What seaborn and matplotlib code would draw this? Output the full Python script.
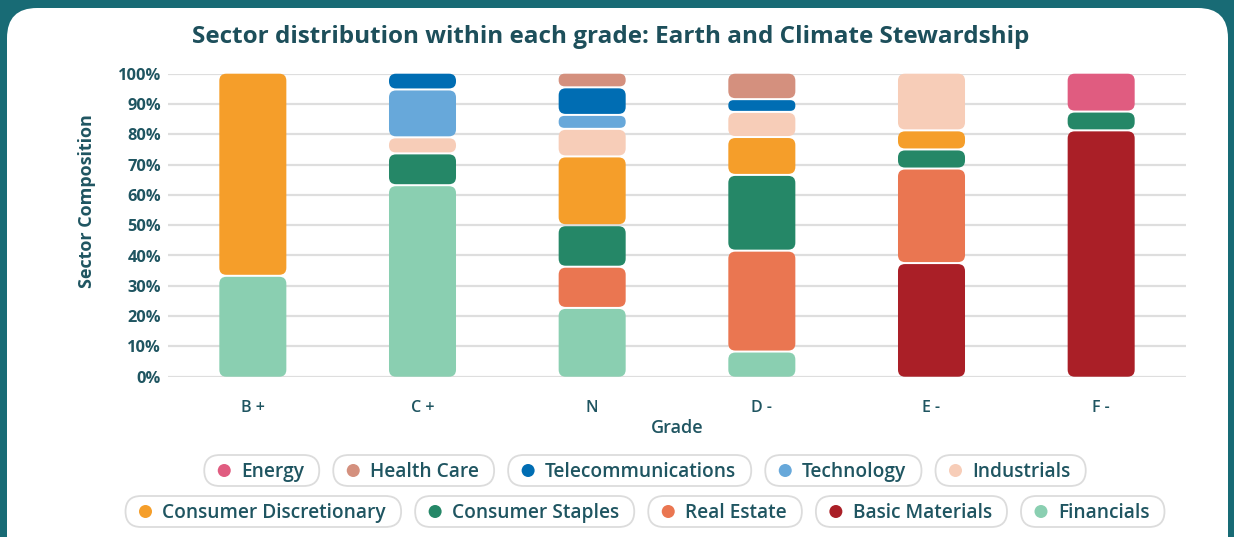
import matplotlib
matplotlib.use("Agg")
import matplotlib.pyplot as plt
from matplotlib.patches import FancyBboxPatch, Ellipse
import seaborn as sns
import numpy as np
import pandas as pd

# ---------------- data ----------------
grades = ["B +", "C +", "N", "D -", "E -", "F -"]
sectors = ["Financials", "Basic Materials", "Real Estate", "Consumer Staples",
           "Consumer Discretionary", "Industrials", "Technology",
           "Telecommunications", "Health Care", "Energy"]  # bottom -> top
financials = [33.3, 63.2, 22.7, 8.3, 0, 0]
basic_materials = [0, 0, 0, 0, 37.5, 81.3]
real_estate = [0, 0, 13.6, 33.3, 31.2, 0]
consumer_staples = [0, 10.5, 13.7, 25.0, 6.3, 6.2]
consumer_discretionary = [66.7, 0, 22.7, 12.5, 6.3, 0]
industrials = [0, 5.3, 9.1, 8.3, 18.7, 0]
technology = [0, 15.8, 4.6, 0, 0, 0]
telecommunications = [0, 5.2, 9.1, 4.2, 0, 0]
health_care = [0, 0, 4.5, 8.4, 0, 0]
energy = [0, 0, 0, 0, 0, 12.5]
values = [financials, basic_materials, real_estate, consumer_staples,
          consumer_discretionary, industrials, technology,
          telecommunications, health_care, energy]
colors = ["#8ACFB1", "#AA1F27", "#EA7651", "#258767", "#F59E2A",
          "#F7CDB8", "#67A8DA", "#006DB3", "#D4907E", "#E05C80"]
legend_rows = [["Energy", "Health Care", "Telecommunications", "Technology", "Industrials"],
               ["Consumer Discretionary", "Consumer Staples", "Real Estate",
                "Basic Materials", "Financials"]]
yticks = [0, 10, 20, 30, 40, 50, 60, 70, 80, 90, 100]

# ---------------- style ----------------
sns.set_style("white")
plt.rcParams["font.family"] = ["Open Sans", "DejaVu Sans"]
TXT = "#1F5561"
TEAL = "#186B75"

W, H = 1234, 537
fig = plt.figure(figsize=(W / 100, H / 100), dpi=100)
fig.patch.set_facecolor(TEAL)

# white card
card = FancyBboxPatch((7 / W, -0.2), (1228 - 7) / W, 0.2 + (H - 8) / H,
                      boxstyle=f"round,pad=0,rounding_size={30 / W}",
                      mutation_aspect=W / H, transform=fig.transFigure,
                      facecolor="white", edgecolor="none", zorder=-5)
fig.add_artist(card)

ax_l, ax_r, ax_t, ax_b = 168, 1186, 73.7, 376.7
ax = fig.add_axes([ax_l / W, 1 - ax_b / H, (ax_r - ax_l) / W, (ax_b - ax_t) / H])
ax.set_facecolor("none")

bar_w = 0.395
cum_prev = np.zeros(len(grades))
segments = []
for name, vals, col in zip(sectors, values, colors):
    top = cum_prev + np.array(vals, dtype=float)
    df = pd.DataFrame({"grade": grades, "top": top})
    n_before = len(ax.patches)
    sns.barplot(data=df, x="grade", y="top", order=grades, color=col,
                width=bar_w, ax=ax, saturation=1, errorbar=None)
    new = ax.patches[n_before:]
    for p in new:
        xc = p.get_x() + p.get_width() / 2
        i = int(round(xc))
        if vals[i] > 0:
            segments.append((p.get_x(), p.get_width(), cum_prev[i], top[i], col))
        p.set_visible(False)
    cum_prev = top

ax.set_xlim(-0.5, len(grades) - 0.5)
ax.set_ylim(0, 100)

# rounded segments with small gaps
px_x = (len(grades)) / (ax_r - ax_l)     # x units per pixel
px_y = 100 / (ax_b - ax_t)               # y units per pixel
aspect = px_y / px_x
gap = 1.0 * px_y
for x0, w, y0, y1, col in segments:
    b = y0 + (gap if y0 > 0.01 else 0)
    t = y1 - (gap if y1 < 99.99 else 0)
    h_px = (t - b) / px_y
    r_px = min(7.0, h_px / 2 - 0.3)
    fb = FancyBboxPatch((x0, b), w, t - b,
                        boxstyle=f"round,pad=0,rounding_size={r_px * px_x}",
                        mutation_aspect=aspect, facecolor=col, edgecolor="none",
                        zorder=3, clip_on=False)
    ax.add_patch(fb)

# axes styling
for s in ax.spines.values():
    s.set_visible(False)
ax.set_yticks(yticks)
ax.set_yticklabels([f"{v}%" for v in yticks])
ax.yaxis.grid(True, color="#dedede", linewidth=1.6, zorder=0)
ax.set_axisbelow(True)
ax.tick_params(axis="y", length=0, pad=5, labelsize=11.8, labelcolor=TXT)
ax.tick_params(axis="x", length=0, pad=17, labelsize=11.5, labelcolor=TXT)
for lab in ax.get_yticklabels():
    lab.set_fontweight("bold")
for lab in ax.get_xticklabels():
    lab.set_fontweight("semibold")
ax.set_xlabel("Grade", fontsize=13, color=TXT, fontweight="semibold", labelpad=2)
ax.set_ylabel("Sector Composition", fontsize=13, color=TXT, fontweight="bold")
ax.yaxis.set_label_coords((96 - ax_l) / (ax_r - ax_l), (ax_b - 201) / (ax_b - ax_t))

fig.text(611 / W, 1 - 37 / H,
         "Sector distribution within each grade: Earth and Climate Stewardship",
         ha="center", va="center", fontsize=17.5, fontweight="bold", color="#1D4F5B")

# ---------------- legend (pills) ----------------
color_of = dict(zip(sectors, colors))
renderer = fig.canvas.get_renderer()
row_y = [470.5, 511.5]
pill_h = 31
gap_x = 14
center_x = 645
leg_fs = 13.8
cap_px = leg_fs * 100 / 72 * 0.714
for row, yc in zip(legend_rows, row_y):
    texts = []
    widths = []
    for name in row:
        t = fig.text(0, 1 - (yc + cap_px / 2) / H, name, ha="left", va="baseline",
                     fontsize=leg_fs, fontweight="semibold", color=TXT)
        bb = t.get_window_extent(renderer=renderer)
        texts.append(t)
        widths.append(37 + bb.width + 15)
    total = sum(widths) + gap_x * (len(row) - 1)
    x = center_x - total / 2
    for name, t, pw in zip(row, texts, widths):
        pill = FancyBboxPatch((x / W, 1 - (yc + pill_h / 2) / H), pw / W, pill_h / H,
                              boxstyle=f"round,pad=0,rounding_size={(pill_h / 2) / W}",
                              mutation_aspect=W / H, transform=fig.transFigure,
                              facecolor="white", edgecolor="#dcdcdc", linewidth=1.3)
        fig.add_artist(pill)
        dot = Ellipse(((x + 20) / W, 1 - yc / H), 13 / W, 13 / H,
                      transform=fig.transFigure, facecolor=color_of[name],
                      edgecolor="none")
        fig.add_artist(dot)
        t.set_x((x + 37) / W)
        t.set_zorder(5)
        x += pw + gap_x

fig.savefig("out.png", dpi=100, facecolor=fig.get_facecolor())
